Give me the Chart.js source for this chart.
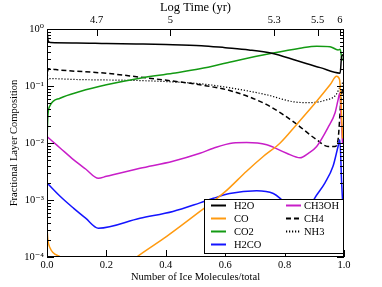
<!DOCTYPE html>
<html><head><meta charset="utf-8">
<script src="https://cdn.jsdelivr.net/npm/chart.js@4/dist/chart.umd.min.js"></script>
<style>html,body{margin:0;padding:0;background:#fff;}#wrap{width:382px;height:287px;}</style>
</head><body><div id="wrap"><canvas id="c" width="382" height="287"></canvas></div>
<script>
const FONT = '"Liberation Serif", "DejaVu Serif", serif';

// ---- data (x = number of ice molecules / total, y = fractional layer composition)
const seriesNames = ['H2O', 'CO', 'CO2', 'H2CO', 'CH3OH', 'CH4', 'NH3'];

const h2oX = [0, 0.004, 0.012, 0.1, 0.2, 0.3, 0.4, 0.52, 0.6, 0.68, 0.757, 0.84, 0.92, 0.987, 0.992, 1.0];
const h2oY = [0.95, 0.62, 0.58, 0.57, 0.557, 0.547, 0.535, 0.51, 0.47, 0.43, 0.375, 0.28, 0.21, 0.168, 0.33, 0.36];

const coX = [0, 0.003, 0.01, 0.02, 0.045, 0.1, 0.17, 0.24, 0.302, 0.403, 0.515, 0.6, 0.672, 0.728, 0.785, 0.84, 0.908, 0.953, 0.975, 0.985, 0.99, 0.995];
const coY = [3.2e-4, 2.0e-4, 1.45e-4, 1.2e-4, 1.0e-4, 6e-5, 4e-5, 5.5e-5, 1.0e-4, 2.3e-4, 6.3e-4, 1.4e-3, 3.2e-3, 5.8e-3, 0.01, 0.021, 0.054, 0.105, 0.148, 0.13, 0.05, 0.012];

const co2X = [0, 0.003, 0.01, 0.044, 0.111, 0.2, 0.313, 0.424, 0.515, 0.626, 0.757, 0.852, 0.908, 0.953, 0.98, 0.987, 0.993, 1.0];
const co2Y = [0.011, 0.03, 0.045, 0.061, 0.08, 0.105, 0.137, 0.167, 0.2, 0.27, 0.375, 0.46, 0.5, 0.49, 0.43, 0.44, 0.3, 0.28];

const h2coX = [0, 0.045, 0.089, 0.13, 0.173, 0.313, 0.424, 0.515, 0.56, 0.615, 0.706, 0.762, 0.785, 0.82, 0.855, 0.88, 0.9, 0.936, 0.963, 0.98, 0.986, 0.992, 0.996];
const h2coY = [0.002, 1.15e-3, 7.2e-4, 4.8e-4, 3.2e-4, 4.8e-4, 6.3e-4, 8.9e-4, 1.07e-3, 1.3e-3, 1.45e-3, 1.3e-3, 1.07e-3, 7e-4, 5e-4, 6.5e-4, 1.05e-3, 2e-3, 3.9e-3, 8.7e-3, 0.0114, 0.002, 8e-4];

const ch3ohX = [0, 0.02, 0.045, 0.089, 0.13, 0.173, 0.2, 0.313, 0.424, 0.515, 0.56, 0.626, 0.672, 0.74, 0.807, 0.852, 0.88, 0.908, 0.946, 0.97, 0.98, 0.986, 0.99, 0.995];
const ch3ohY = [0.013, 0.0105, 0.0081, 0.0051, 0.0035, 0.0024, 0.0026, 0.0036, 0.0048, 0.0066, 0.0081, 0.01, 0.0102, 0.0093, 0.0066, 0.0055, 0.0066, 0.0087, 0.0186, 0.034, 0.057, 0.075, 0.03, 0.01];

const ch4X = [0, 0.004, 0.045, 0.2, 0.313, 0.424, 0.515, 0.627, 0.74, 0.828, 0.908, 0.946, 0.97, 0.98, 0.99, 1.0];
const ch4Y = [0.13, 0.2, 0.19, 0.167, 0.143, 0.122, 0.105, 0.08, 0.047, 0.024, 0.0114, 0.0087, 0.0087, 0.0114, 0.06, 0.11];

const nh3X = [0, 0.003, 0.1, 0.3, 0.424, 0.52, 0.626, 0.74, 0.828, 0.884, 0.94, 0.973, 0.99, 1.0];
const nh3Y = [0.1, 0.135, 0.13, 0.125, 0.118, 0.109, 0.091, 0.07, 0.053, 0.051, 0.057, 0.07, 0.105, 0.12];

// ---- tick labels
const xTickValues = [0, 0.2, 0.4, 0.6, 0.8, 1.0];
const xTickLabels = ['0.0', '0.2', '0.4', '0.6', '0.8', '1.0'];
const topTickPositions = [0.167, 0.415, 0.765, 0.911, 0.986];
const topTickLabels = ['4.7', '5', '5.3', '5.5', '6'];
const yTickValues = [1e-4, 1e-3, 1e-2, 1e-1, 1];
const yTickLabels = ['10\u207B\u2074', '10\u207B\u00B3', '10\u207B\u00B2', '10\u207B\u00B9', '10\u2070'];

// ---- styles
const styles = [
  {color: '#000000', dash: []},
  {color: '#ff9a10', dash: []},
  {color: '#139a13', dash: []},
  {color: '#1414ff', dash: []},
  {color: '#c81ec8', dash: []},
  {color: '#000000', dash: [5, 3]},
  {color: '#000000', dash: [1.2, 1.8]}
];
const xs = [h2oX, coX, co2X, h2coX, ch3ohX, ch4X, nh3X];
const ys = [h2oY, coY, co2Y, h2coY, ch3ohY, ch4Y, nh3Y];

const datasets = seriesNames.map((name, i) => ({
  label: name,
  data: xs[i].map((x, j) => ({x: x, y: ys[i][j]})),
  borderColor: styles[i].color,
  backgroundColor: styles[i].color,
  borderDash: styles[i].dash,
  borderWidth: i === 6 ? 1.2 : 1.5,
  pointRadius: 0,
  fill: false,
  cubicInterpolationMode: 'monotone'
}));

const tickFont = {family: FONT, size: 10.5};

const framePlugin = {
  id: 'frameTicks',
  afterDatasetsDraw(chart) {
    const ctx = chart.ctx;
    const a = chart.chartArea;
    const xs_ = chart.scales.x, xt = chart.scales.x2, yl = chart.scales.y;
    ctx.save();
    ctx.strokeStyle = '#000';
    ctx.lineWidth = 1;
    ctx.setLineDash([]);
    ctx.beginPath();
    xTickValues.forEach(v => {
      const px = Math.round(xs_.getPixelForValue(v)) + 0.5;
      ctx.moveTo(px, a.bottom); ctx.lineTo(px, a.bottom - 7);
    });
    topTickPositions.forEach(v => {
      const px = Math.round(xt.getPixelForValue(v)) + 0.5;
      ctx.moveTo(px, a.top); ctx.lineTo(px, a.top + 7);
    });
    yTickValues.forEach(v => {
      const py = Math.round(yl.getPixelForValue(v)) + 0.5;
      ctx.moveTo(a.left, py); ctx.lineTo(a.left + 7, py);
      ctx.moveTo(a.right, py); ctx.lineTo(a.right - 7, py);
    });
    for (let k = 0; k < yTickValues.length - 1; k++) {
      for (let m = 2; m <= 9; m++) {
        const py = Math.round(yl.getPixelForValue(m * yTickValues[k])) + 0.5;
        ctx.moveTo(a.left, py); ctx.lineTo(a.left + 4, py);
        ctx.moveTo(a.right, py); ctx.lineTo(a.right - 4, py);
      }
    }
    ctx.stroke();

    // legend
    const bx = 204.5, by = 199.5, bw = 139, bh = 54;
    ctx.fillStyle = '#fff';
    ctx.fillRect(bx, by, bw, bh);
    ctx.strokeStyle = '#000';
    ctx.lineWidth = 1;
    ctx.strokeRect(bx, by, bw, bh);
    const cols = [[0, 1, 2, 3], [4, 5, 6]];
    const colLineX = [211, 286];
    const colTextX = [234, 304];
    const rowY = [205.5, 218.5, 231.5, 244.5];
    ctx.font = '10.5px ' + FONT;
    ctx.textBaseline = 'middle';
    ctx.textAlign = 'left';
    cols.forEach((col, c) => {
      col.forEach((di, r) => {
        const ds = chart.data.datasets[di];
        ctx.beginPath();
        ctx.strokeStyle = ds.borderColor;
        ctx.lineWidth = 2;
        ctx.setLineDash(di === 6 ? [1.2, 1.8] : (di === 5 ? [5, 3] : []));
        ctx.moveTo(colLineX[c], rowY[r]);
        ctx.lineTo(colLineX[c] + 15, rowY[r]);
        ctx.stroke();
        ctx.setLineDash([]);
        ctx.fillStyle = '#000';
        ctx.fillText(ds.label, colTextX[c], rowY[r] + 0.5);
      });
    });

    ctx.strokeStyle = '#000';
    ctx.lineWidth = 1;
    ctx.strokeRect(Math.round(a.left) + 0.5, Math.round(a.top) + 0.5, Math.round(a.right - a.left) - 1, Math.round(a.bottom - a.top) - 1);
    ctx.restore();
  }
};

new Chart(document.getElementById('c'), {
  type: 'line',
  data: {datasets: datasets},
  plugins: [framePlugin],
  options: {
    responsive: false,
    devicePixelRatio: 1,
    animation: false,
    layout: {padding: {left: 0, right: 38, top: 0, bottom: 0}},
    plugins: {legend: {display: false}, tooltip: {enabled: false}},
    scales: {
      x: {
        type: 'linear', position: 'bottom', min: 0, max: 1,
        grid: {display: false, drawTicks: false}, border: {display: false},
        afterBuildTicks: s => { s.ticks = xTickValues.map(v => ({value: v})); },
        ticks: {font: tickFont, color: '#000', padding: 2, maxRotation: 0, autoSkip: false,
          callback: (v, i) => xTickLabels[i]},
        title: {display: true, text: 'Number of Ice Molecules/total', color: '#000',
          font: {family: FONT, size: 10.5}, padding: {top: 0, bottom: 3}},
        afterFit: s => { s.height = 30; }
      },
      x2: {
        type: 'linear', position: 'top', axis: 'x', min: 0, max: 1,
        grid: {display: false, drawTicks: false}, border: {display: false},
        afterBuildTicks: s => { s.ticks = topTickPositions.map(v => ({value: v})); },
        ticks: {font: tickFont, color: '#000', padding: 2, maxRotation: 0, autoSkip: false,
          callback: (v, i) => topTickLabels[i]},
        title: {display: true, text: 'Log Time (yr)', color: '#000',
          font: {family: FONT, size: 12.5}, padding: {top: 0, bottom: 0}},
        afterFit: s => { s.height = 29; }
      },
      y: {
        type: 'logarithmic', position: 'left', min: 1e-4, max: 1,
        grid: {display: false, drawTicks: false}, border: {display: false},
        afterBuildTicks: s => { s.ticks = yTickValues.map(v => ({value: v})); },
        ticks: {font: tickFont, color: '#000', padding: 3, autoSkip: false,
          callback: (v, i) => yTickLabels[i]},
        title: {display: true, text: 'Fractional Layer Composition', color: '#000',
          font: {family: FONT, size: 10.5}, padding: {top: 8, bottom: 0}},
        afterFit: s => { s.width = 47; }
      }
    }
  }
});
</script>
</body></html>
